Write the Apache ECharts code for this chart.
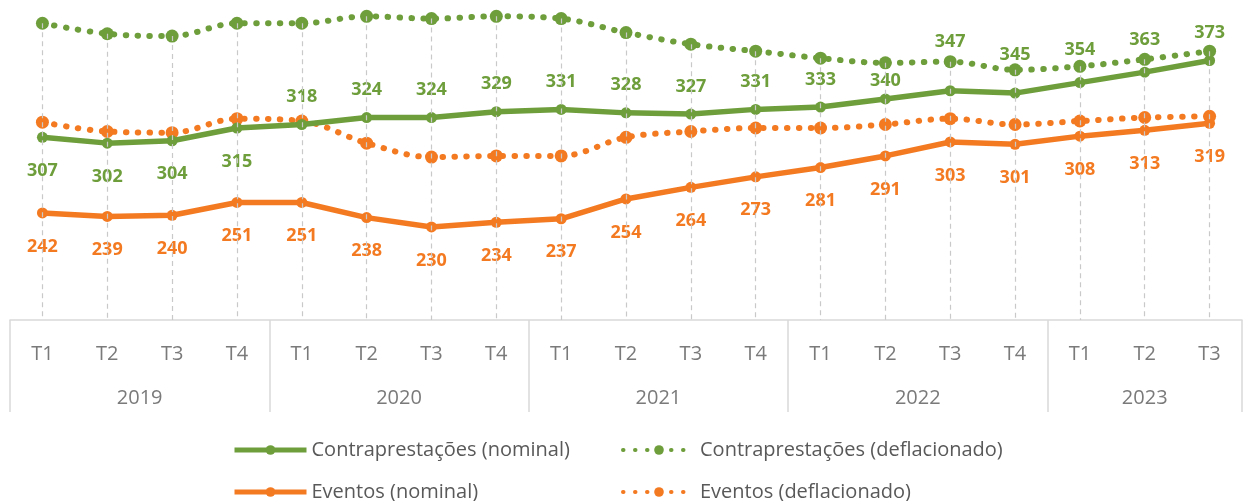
<!DOCTYPE html>
<html>
<head>
<meta charset="utf-8">
<script src="https://cdn.jsdelivr.net/npm/echarts@6/dist/echarts.min.js"></script>
<style>
  html, body { margin: 0; padding: 0; background: #fff; }
  #chart { width: 1245px; height: 501px; }
</style>
</head>
<body>
<div id="chart"></div>
<script>
var quarters = ['T1', 'T2', 'T3', 'T4', 'T1', 'T2', 'T3', 'T4', 'T1', 'T2', 'T3', 'T4',
  'T1', 'T2', 'T3', 'T4', 'T1', 'T2', 'T3']
var years = ['2019', '2020', '2021', '2022', '2023']
var quartersPerYear = [4, 4, 4, 4, 3]

var contraNominal = [307, 302, 304, 315, 318, 324, 324, 329, 331, 328, 327, 331, 333, 340, 347, 345, 354, 363, 373]
var contraDeflated = [405, 396, 394, 405, 405, 411, 409, 411, 409, 397, 387, 381, 375, 371, 372, 365, 368, 374, 381]
var eventosNominal = [242, 239, 240, 251, 251, 238, 230, 234, 237, 254, 264, 273, 281, 291, 303, 301, 308, 313, 319]
var eventosDeflated = [320, 312, 311, 323, 321, 302, 290, 291, 291, 307, 312, 315, 315, 318, 323, 318, 321, 324, 325]

// first few green labels sit under the line
var contraLabelsBelow = 4
// a few green labels were nudged by hand in the original (pixels, by index)
var contraLabelNudge = { 13: 9, 14: -21, 15: -11, 16: -5, 17: -5 }

var GREEN = '#6E9E3C'
var ORANGE = '#F47A22'
var FONT = "'Open Sans', 'Noto Sans', sans-serif"
var Y_MIN = 150

// year boundaries and centres, from the quarter counts
var yearStarts = []
var yearCenters = {}
var acc = 0
quartersPerYear.forEach(function (n, i) {
  yearStarts.push(acc)
  yearCenters[acc + n / 2] = years[i]
  acc += n
})

// drop lines from the highest point of each quarter down to the axis
var dropLines = quarters.map(function (q, i) {
  var top = Math.max(contraNominal[i], contraDeflated[i], eventosNominal[i], eventosDeflated[i])
  return [{ coord: [i, top] }, { coord: [i, Y_MIN] }]
})

var chart = echarts.init(document.getElementById('chart'))

var nominalLine = function (name, color, data, labelPos) {
  return {
    name: name,
    type: 'line',
    data: data,
    symbol: 'circle',
    symbolSize: 11,
    z: 4,
    lineStyle: { color: color, width: 5.5 },
    itemStyle: { color: color },
    label: {
      show: true,
      position: labelPos,
      distance: labelPos === 'top' ? 13 : 19,
      color: color,
      fontFamily: FONT,
      fontSize: 18,
      fontWeight: 'bold'
    }
  }
}

var deflatedLine = function (name, color, data) {
  return {
    name: name,
    type: 'line',
    data: data,
    smooth: 0.35,
    symbol: 'circle',
    symbolSize: 13,
    z: 3,
    lineStyle: { color: color, width: 6, type: [0.5, 11.5], cap: 'round' },
    itemStyle: { color: color }
  }
}

var legendItem = function (name, left, top, lineWidth) {
  return {
    orient: 'horizontal',
    left: left,
    top: top,
    itemWidth: 72,
    itemHeight: 12,
    lineStyle: { width: lineWidth },
    textStyle: { color: '#595959', fontFamily: FONT, fontSize: 20 },
    data: [name]
  }
}

var contraData = contraNominal.map(function (v, i) {
  if (i < contraLabelsBelow) {
    return { value: v, label: { position: 'bottom', distance: 19 } }
  }
  if (contraLabelNudge[i]) {
    return { value: v, label: { offset: [0, contraLabelNudge[i]] } }
  }
  return v
})

var option = {
  backgroundColor: '#fff',
  animation: false,
  grid: { left: 10, right: -8, top: 0, bottom: 181 },
  legend: [
    legendItem('Contraprestações (nominal)', 227, 435, 5),
    legendItem('Eventos (nominal)', 227, 477, 5),
    legendItem('Contraprestações (deflacionado)', 616, 435, 4),
    legendItem('Eventos (deflacionado)', 616, 477, 4)
  ],
  xAxis: [
    {
      type: 'category',
      data: quarters,
      boundaryGap: true,
      axisLine: { lineStyle: { color: '#D9D9D9', width: 1.5 } },
      axisTick: {
        show: true,
        length: 92,
        lineStyle: { color: '#D9D9D9', width: 1.5 },
        interval: function (index) { return yearStarts.indexOf(index) !== -1 }
      },
      axisLabel: { color: '#7A7A7A', fontFamily: FONT, fontSize: 20, margin: 24, interval: 0 },
      splitLine: { show: false }
    },
    {
      type: 'value',
      min: 0,
      max: quarters.length,
      interval: 0.5,
      position: 'bottom',
      axisLine: { show: false },
      axisTick: { show: false },
      splitLine: { show: false },
      axisLabel: {
        color: '#7A7A7A',
        fontFamily: FONT,
        fontSize: 20,
        margin: 68,
        showMinLabel: true,
        showMaxLabel: true,
        formatter: function (v) { return yearCenters[v] || '' }
      }
    }
  ],
  yAxis: {
    type: 'value',
    min: Y_MIN,
    max: 425,
    show: false,
    splitLine: { show: false }
  },
  series: [
    {
      name: 'drop',
      type: 'line',
      data: [],
      z: 1,
      silent: true,
      markLine: {
        silent: true,
        symbol: 'none',
        label: { show: false },
        lineStyle: { color: '#C9C9C9', width: 1.2, type: [5, 4] },
        data: dropLines
      }
    },
    nominalLine('Contraprestações (nominal)', GREEN, contraData, 'top'),
    deflatedLine('Contraprestações (deflacionado)', GREEN, contraDeflated),
    nominalLine('Eventos (nominal)', ORANGE, eventosNominal, 'bottom'),
    deflatedLine('Eventos (deflacionado)', ORANGE, eventosDeflated)
  ]
}

chart.setOption(option)
</script>
</body>
</html>
